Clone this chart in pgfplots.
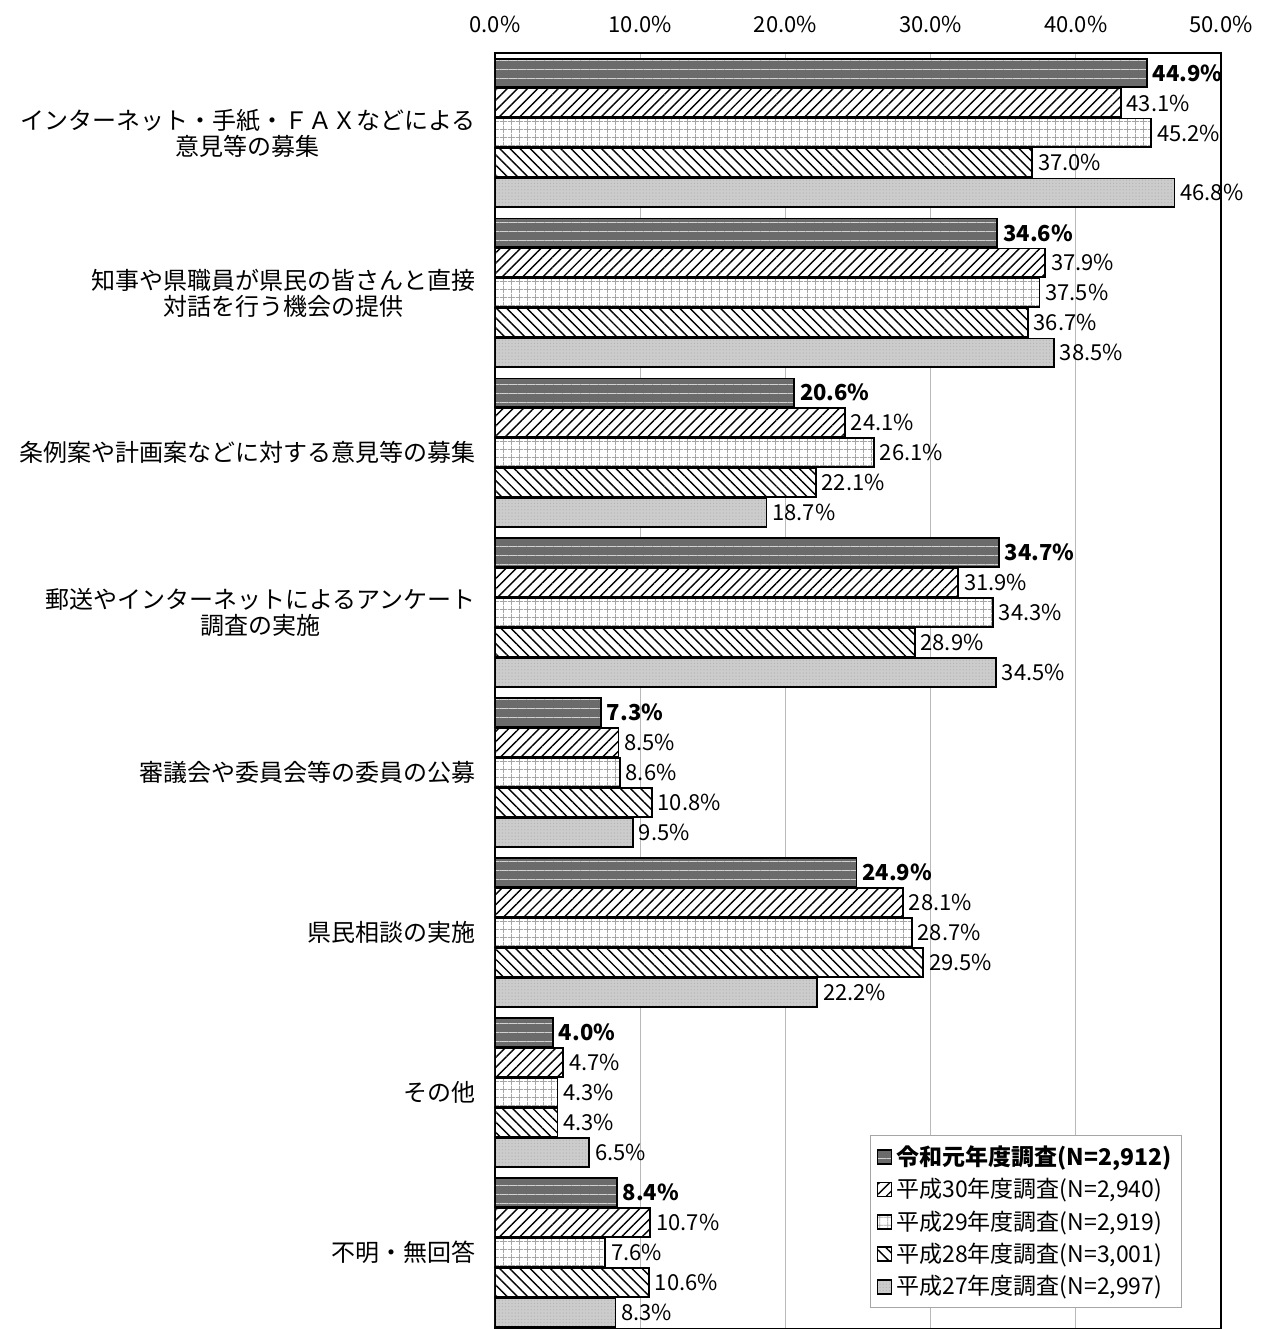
\documentclass[border=0pt]{standalone}
\usepackage{fontspec}
\setmainfont{Noto Sans CJK JP}
\usepackage{pgfplots}
\pgfplotsset{compat=1.18}
\usetikzlibrary{patterns,patterns.meta}
\begin{document}
\begin{tikzpicture}
\useasboundingbox (-247.5pt,0pt) rectangle (383.5pt,664.5pt);
\begin{axis}[
  at={(0pt,0pt)}, anchor=south west,
  scale only axis, width=363pt, height=638pt,
  xmin=0, xmax=50, ymin=-0.5, ymax=7.48, y dir=reverse,
  xbar, bar width=0.18,
  axis line style={black, line width=1pt},
  xtick={0,10,20,30,40,50},
  xticklabel pos=upper,
  xticklabel={\pgfmathprintnumber[fixed,fixed zerofill,precision=1]{\tick}\%},
  xticklabel style={font=\fontsize{11}{13}\selectfont, inner sep=0pt, yshift=10pt},
  /pgf/number format/assume math mode=true,
  ytick={0,1,2,3,4,5,6,7},
  yticklabels={
    {インターネット・手紙・ＦＡＸなどによる\\意見等の募集},
    {知事や県職員が県民の皆さんと直接\\対話を行う機会の提供},
    {条例案や計画案などに対する意見等の募集},
    {郵送やインターネットによるアンケート\\調査の実施},
    {審議会や委員会等の委員の公募},
    {県民相談の実施},
    {その他},
    {不明・無回答}},
  yticklabel style={font=\fontsize{12}{13}\selectfont, align=center, inner sep=0pt, xshift=-9.5pt},
  major tick length=0pt,
  xmajorgrids, grid style={gray!55, line width=0.4pt},
  point meta=x,
  nodes near coords={\pgfmathprintnumber[fixed,fixed zerofill,precision=1]{\pgfplotspointmeta}\%},
  nodes near coords style={anchor=west, inner sep=2.5pt, font=\fontsize{11}{13}\selectfont, black},
  legend style={at={(0.946,0.152)}, anchor=north east, draw=gray!70, fill=white,
    font=\fontsize{11.5}{14}\selectfont, row sep=1pt, inner xsep=3pt, inner ysep=3pt},
  legend cell align=left,
  legend image code/.code={\draw[#1] (0pt,-3.5pt) rectangle (7pt,3.5pt);},
]
\addplot[bar shift=-0.375, draw=black, line width=0.9pt, fill=black!58,
  postaction={pattern={Lines[angle=0,distance=4.5pt,line width=0.35pt]}, pattern color=gray!35},
  nodes near coords style={font=\bfseries\fontsize{11}{13}\selectfont}]
  coordinates {(44.9,0) (34.6,1) (20.6,2) (34.7,3) (7.3,4) (24.9,5) (4.0,6) (8.4,7)};
\addplot[bar shift=-0.1875, draw=black, line width=0.9pt, fill=white,
  postaction={pattern={Lines[angle=45,distance=3.6pt,line width=0.7pt]}, pattern color=black}]
  coordinates {(43.1,0) (37.9,1) (24.1,2) (31.9,3) (8.5,4) (28.1,5) (4.7,6) (10.7,7)};
\addplot[bar shift=0, draw=black, line width=0.9pt, fill=white,
  postaction={pattern={Hatch[angle=0,distance=4pt,line width=0.35pt]}, pattern color=gray!70}]
  coordinates {(45.2,0) (37.5,1) (26.1,2) (34.3,3) (8.6,4) (28.7,5) (4.3,6) (7.6,7)};
\addplot[bar shift=0.1875, draw=black, line width=0.9pt, fill=white,
  postaction={pattern={Lines[angle=-45,distance=3.6pt,line width=0.7pt]}, pattern color=black}]
  coordinates {(37.0,0) (36.7,1) (22.1,2) (28.9,3) (10.8,4) (29.5,5) (4.3,6) (10.6,7)};
\addplot[bar shift=0.375, draw=black, line width=0.9pt, fill=black!20,
  postaction={pattern={Dots[distance=1.6pt,radius=0.3pt]}, pattern color=gray!60}]
  coordinates {(46.8,0) (38.5,1) (18.7,2) (34.5,3) (9.5,4) (22.2,5) (6.5,6) (8.3,7)};
\legend{{\textbf{令和元年度調査(N=2,912)}},{平成30年度調査(N=2,940)},{平成29年度調査(N=2,919)},{平成28年度調査(N=3,001)},{平成27年度調査(N=2,997)}}
\end{axis}
\end{tikzpicture}
\end{document}
